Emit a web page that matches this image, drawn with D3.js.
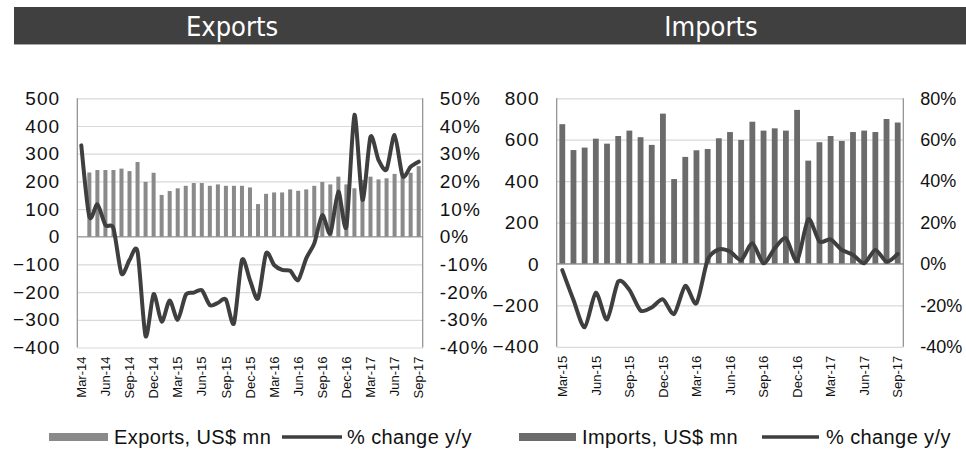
<!DOCTYPE html>
<html>
<head>
<meta charset="utf-8">
<script src="https://cdn.jsdelivr.net/npm/d3@7"></script>
<style>
  body { margin: 0; background: #fff; }
  svg { display: block; }
  text { font-family: "Liberation Sans", Arial, Helvetica, sans-serif; }
</style>
</head>
<body>
<svg id="chart" width="966" height="455"></svg>
<script>
// ---- Data -------------------------------------------------------------
// Monthly categories
const exportMonths = d3.timeMonth.range(new Date(2014, 2, 1), new Date(2017, 9, 1)); // Mar-14 .. Sep-17
const importMonths = d3.timeMonth.range(new Date(2015, 2, 1), new Date(2017, 9, 1)); // Mar-15 .. Sep-17

// Exports, US$ mn
const exportsValues = [null, 232, 241, 241, 241, 246, 237, 270, 198, 231, 151, 165, 175, 184, 194,
  194, 184, 189, 184, 184, 184, 178, 118, 155, 160, 160, 171, 166, 171, 184, 198, 189, 217, 189,
  175, 205, 217, 207, 211, 227, 217, 231, 255];
// Exports, % change y/y
const exportsChange = [33, 7.2, 11.7, 4.2, 3, -13.3, -8.4, -5.4, -35.9, -20.7, -30.7, -23, -30, -21,
  -20.2, -19.3, -24.7, -23.9, -22.7, -31.3, -8.4, -15.7, -22.3, -6, -10.2, -12, -12.3, -15.7, -7.8,
  -2.4, 7.8, 1.2, 16.3, 3.6, 44, 13.3, 36.1, 27.7, 24.3, 36.7, 21.9, 25.3, 27.1];

// Imports, US$ mn
const importsValues = [675, 550, 562, 605, 581, 618, 644, 612, 575, 726, 410, 517, 549, 555, 607,
  637, 599, 687, 644, 655, 644, 744, 499, 588, 618, 594, 637, 644, 637, 700, 683];
// Imports, % change y/y
const importsChange = [-3, -17.4, -30.6, -13.9, -26.8, -8.5, -12.5, -22.5, -21, -17.1, -24.2, -10.6,
  -19, 2, 7.1, 6, 1.9, 10, 0.3, 7.6, 12.4, 1.5, 21.6, 10.8, 11.9, 6.8, 4.4, 0.3, 6.8, 1.1, 4.8];

// Axis ticks
const exportsLeftTicks = [-400, -300, -200, -100, 0, 100, 200, 300, 400, 500];
const exportsRightTicks = [-40, -30, -20, -10, 0, 10, 20, 30, 40, 50];
const importsLeftTicks = [-400, -200, 0, 200, 400, 600, 800];
const importsRightTicks = [-40, -20, 0, 20, 40, 60, 80];

const panelTitles = ["Exports", "Imports"];
const legendLabels = [["Exports, US$ mn", "% change y/y"], ["Imports, US$ mn", "% change y/y"]];

// ---- Drawing ----------------------------------------------------------
const svg = d3.select("#chart");
const fmtMonth = d3.timeFormat("%b-%y");
const tickFont = '"Liberation Sans", Arial, sans-serif';

// Header band
svg.append("rect").attr("x", 14).attr("y", 7).attr("width", 952).attr("height", 37).attr("fill", "#404040");
svg.append("line").attr("x1", 14).attr("x2", 966).attr("y1", 44.5).attr("y2", 44.5)
  .attr("stroke", "#a8a8a8").attr("stroke-width", 1);

function drawPanel(cfg) {
  const g = svg.append("g");
  const x = d3.scaleBand().domain(cfg.months).range([cfg.left, cfg.right]).paddingInner(cfg.pad).paddingOuter(cfg.pad / 2);
  const xc = d => x(d) + x.bandwidth() / 2;
  const yL = d3.scaleLinear().domain(cfg.leftDomain).range([cfg.bottom, cfg.top]);
  const yR = d3.scaleLinear().domain(cfg.rightDomain).range([cfg.bottom, cfg.top]);

  // title
  svg.append("text").attr("x", cfg.titleX).attr("y", 36).attr("text-anchor", "middle")
    .attr("fill", "#fff").style("font-family", '"Liberation Sans Narrow","DejaVu Sans Condensed",sans-serif')
    .style("font-size", "27px").text(cfg.title);

  // gridlines
  g.append("g").attr("transform", `translate(${cfg.left},0)`)
    .call(d3.axisLeft(yL).tickValues(cfg.leftTicks).tickSize(-(cfg.right - cfg.left)).tickFormat(""))
    .call(a => a.select(".domain").remove())
    .call(a => a.selectAll("line").attr("stroke", "#d9d9d9").attr("stroke-width", 1.2));

  // bars
  g.append("g").selectAll("rect")
    .data(cfg.months.map((m, i) => ({ m, v: cfg.values[i] })).filter(d => d.v != null))
    .join("rect")
    .attr("x", d => x(d.m)).attr("width", x.bandwidth())
    .attr("y", d => yL(d.v)).attr("height", d => yL(0) - yL(d.v))
    .attr("fill", cfg.barColor);

  // axis lines: category axis at zero, vertical axes on both sides
  g.append("line").attr("x1", cfg.left).attr("x2", cfg.right).attr("y1", yL(0)).attr("y2", yL(0))
    .attr("stroke", "#8c8c8c").attr("stroke-width", 1.2);
  g.append("line").attr("x1", cfg.left).attr("x2", cfg.left).attr("y1", cfg.top).attr("y2", cfg.bottom)
    .attr("stroke", "#8c8c8c").attr("stroke-width", 1.2);
  g.append("line").attr("x1", cfg.right).attr("x2", cfg.right).attr("y1", cfg.top).attr("y2", cfg.bottom)
    .attr("stroke", "#8c8c8c").attr("stroke-width", 1.2);

  // % change line
  const line = d3.line().x((d, i) => xc(cfg.months[i])).y(d => yR(d)).curve(d3.curveCardinal.tension(0.25));
  g.append("path").datum(cfg.change).attr("d", line)
    .attr("fill", "none").attr("stroke", "#3f3f3f").attr("stroke-width", 4)
    .attr("stroke-linejoin", "round").attr("stroke-linecap", "round");

  // left value axis labels
  g.append("g").attr("transform", `translate(${cfg.left - 17},0)`)
    .call(d3.axisLeft(yL).tickValues(cfg.leftTicks).tickSize(0).tickPadding(0).tickFormat(d3.format("d")))
    .call(a => a.select(".domain").remove())
    .call(a => a.selectAll("text").attr("fill", "#111").style("font-size", "19px")
      .style("letter-spacing", "1.1px").style("font-family", tickFont));

  // right % axis labels
  g.append("g").attr("transform", `translate(${cfg.right + 17},0)`)
    .call(d3.axisRight(yR).tickValues(cfg.rightTicks).tickSize(0).tickPadding(0).tickFormat(d => d + "%"))
    .call(a => a.select(".domain").remove())
    .call(a => a.selectAll("text").attr("fill", "#111").style("font-size", cfg.rightFont)
      .style("letter-spacing", cfg.rightSpacing).style("font-family", tickFont));

  // category labels (quarterly), rotated
  const quarterly = cfg.months.filter(m => m.getMonth() % 3 === 2);
  g.append("g").attr("transform", `translate(0,${cfg.bottom + 9})`)
    .call(d3.axisBottom(x).tickValues(quarterly).tickSize(0).tickPadding(0).tickFormat(fmtMonth))
    .call(a => a.select(".domain").remove())
    .call(a => a.selectAll("text")
      .attr("transform", "rotate(-90)").attr("text-anchor", "end")
      .attr("x", 0).attr("y", 0).attr("dy", "0.36em")
      .attr("fill", "#111").style("font-size", "13px")
      .style("font-family", tickFont));

  // legend
  const lg = svg.append("g").style("font-size", "20px").style("letter-spacing", "0.4px").style("font-family", tickFont);
  lg.append("rect").attr("x", cfg.legend[0]).attr("y", 433).attr("width", cfg.legend[1] - cfg.legend[0]).attr("height", 8)
    .attr("fill", cfg.barColor);
  lg.append("text").attr("x", cfg.legend[2]).attr("y", 444).attr("fill", "#111").text(cfg.legendText[0]);
  lg.append("line").attr("x1", cfg.legend[3]).attr("x2", cfg.legend[4]).attr("y1", 437).attr("y2", 437)
    .attr("stroke", "#3f3f3f").attr("stroke-width", 3.5);
  lg.append("text").attr("x", cfg.legend[5]).attr("y", 444).attr("fill", "#111").text(cfg.legendText[1]);
}

drawPanel({
  title: panelTitles[0], titleX: 232,
  months: exportMonths, values: exportsValues, change: exportsChange,
  left: 77.3, right: 422.7, top: 98.3, bottom: 347.5, pad: 0.5,
  leftDomain: [-400, 500], rightDomain: [-40, 50],
  leftTicks: exportsLeftTicks, rightTicks: exportsRightTicks,
  rightFont: "19px", rightSpacing: "1.1px",
  barColor: "#8a8a8a",
  legend: [49, 108, 114, 282, 342, 347], legendText: legendLabels[0]
});

drawPanel({
  title: panelTitles[1], titleX: 711,
  months: importMonths, values: importsValues, change: importsChange,
  left: 556.7, right: 903.3, top: 98.3, bottom: 346.8, pad: 0.48,
  leftDomain: [-400, 800], rightDomain: [-40, 80],
  leftTicks: importsLeftTicks, rightTicks: importsRightTicks,
  rightFont: "18px", rightSpacing: "0px",
  barColor: "#6b6b6b",
  legend: [519, 576, 582, 762, 819, 826], legendText: legendLabels[1]
});
</script>
</body>
</html>
